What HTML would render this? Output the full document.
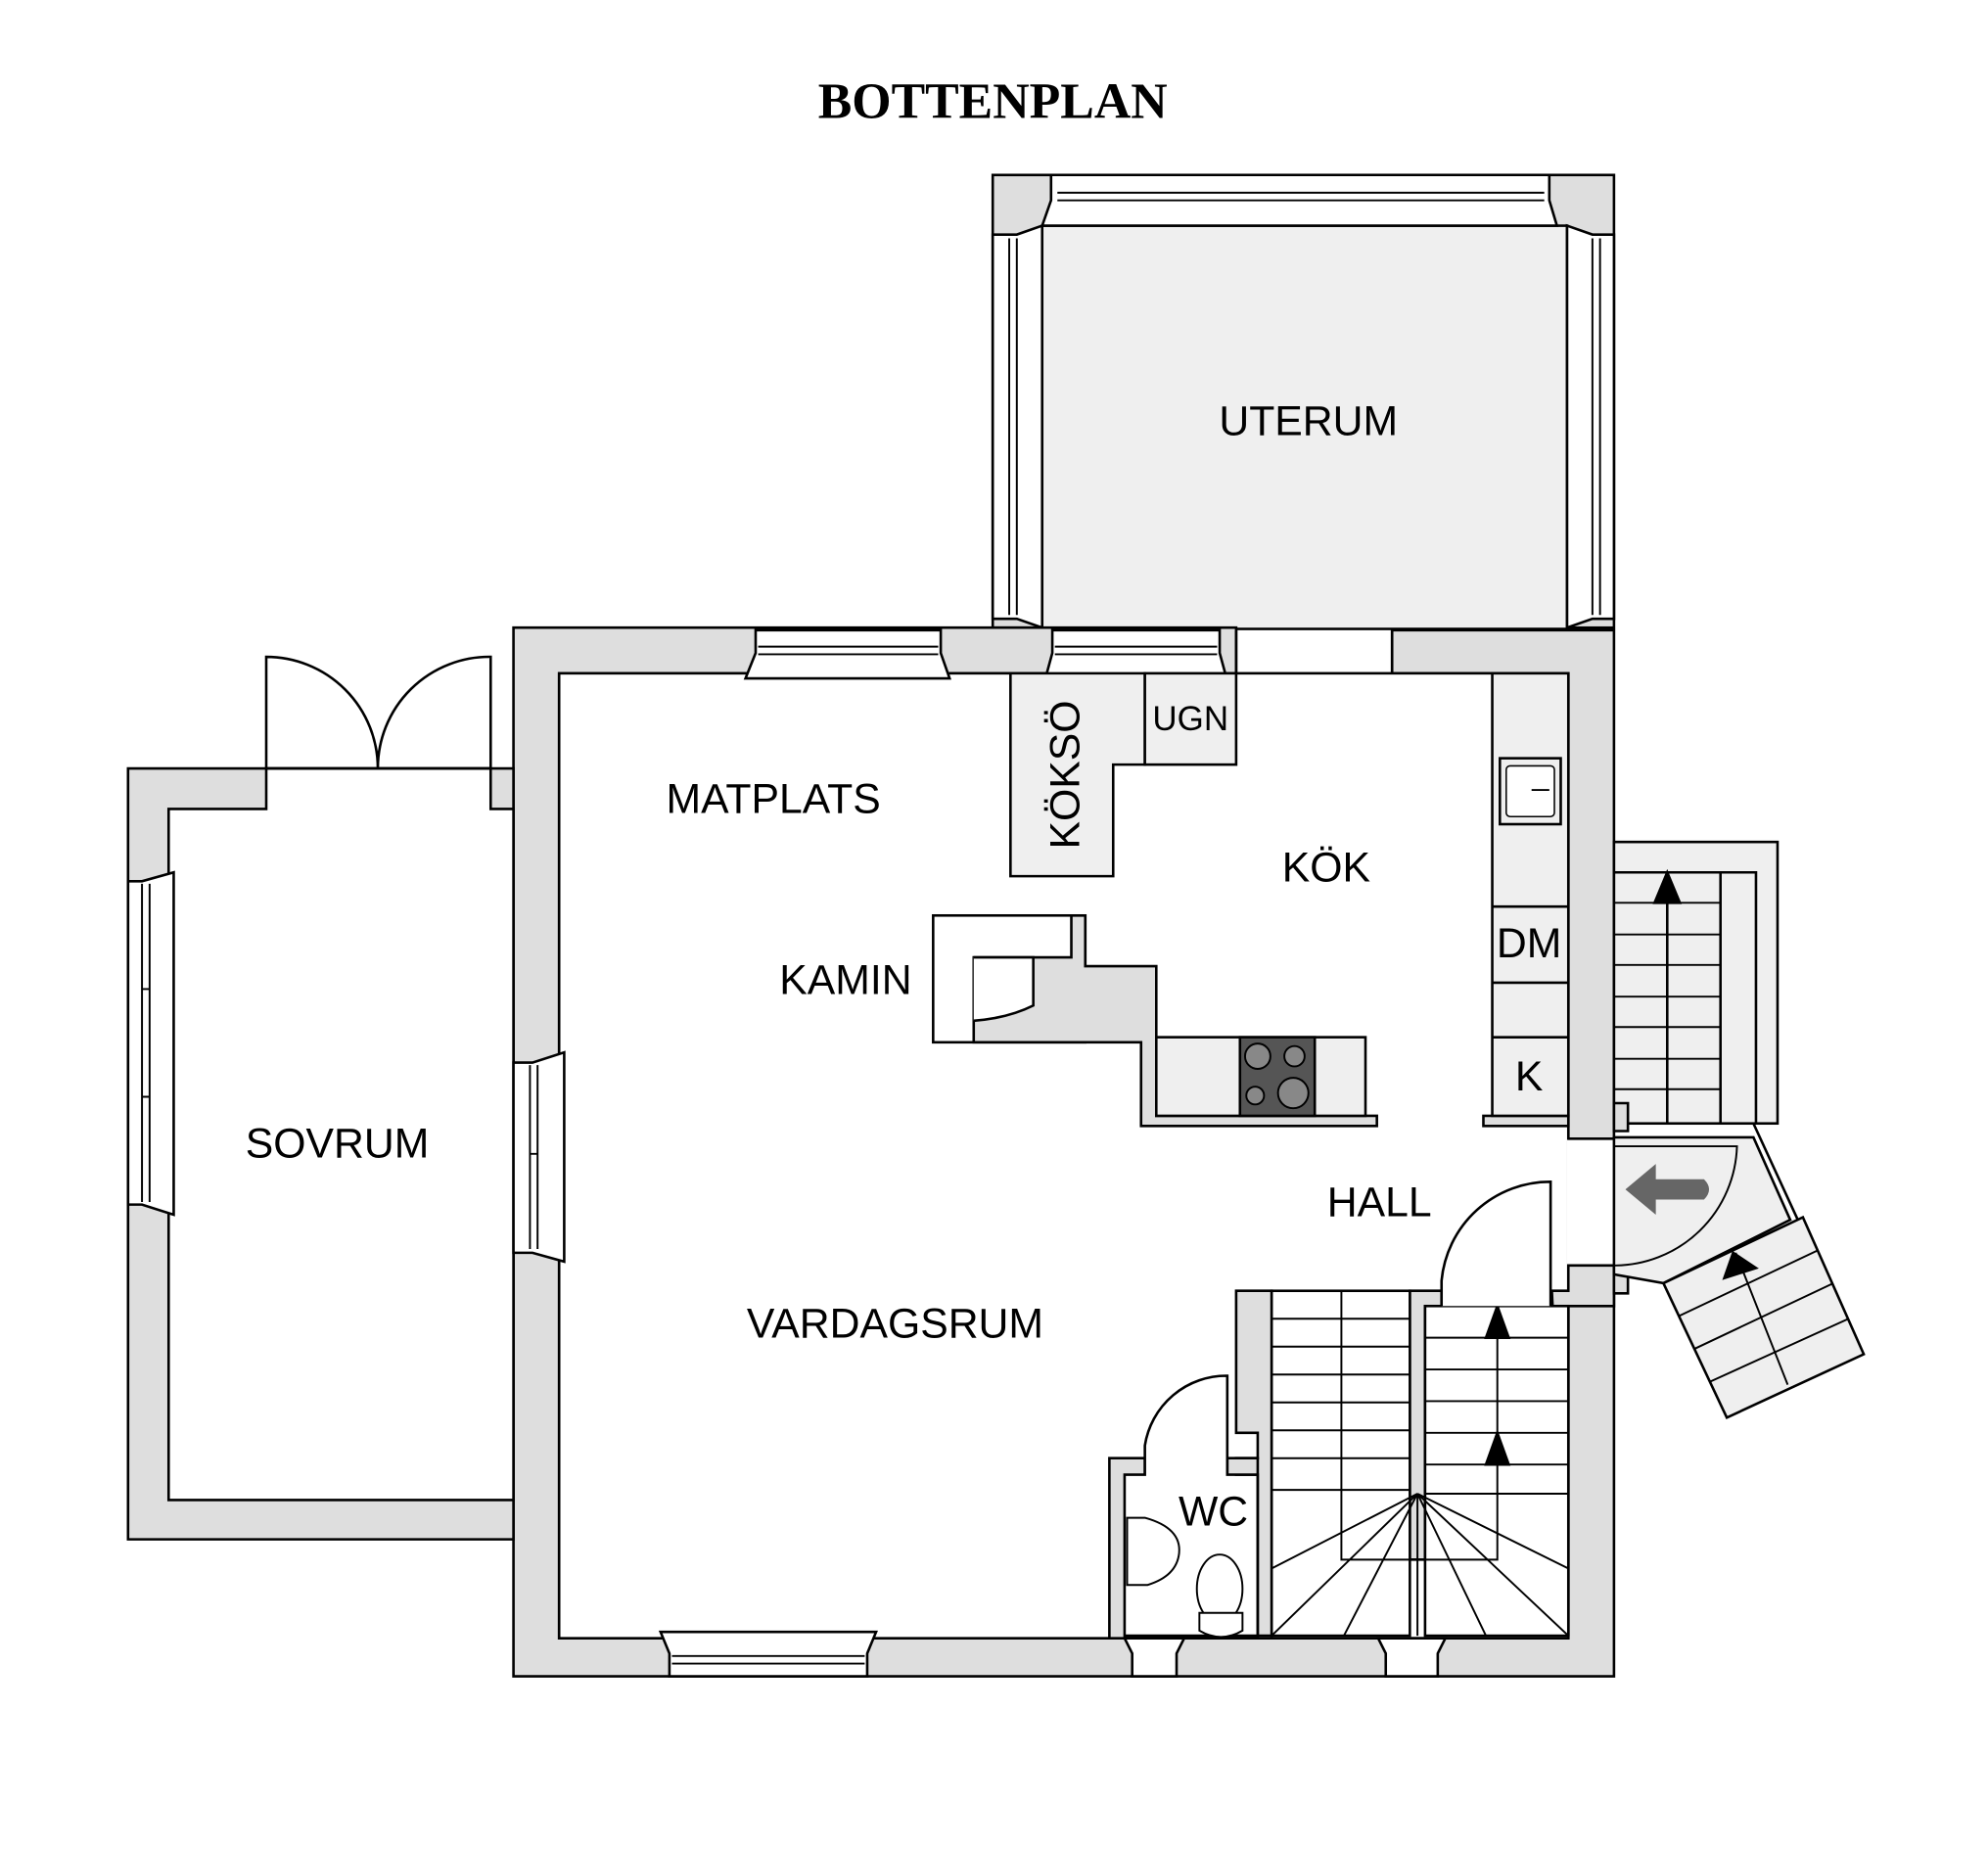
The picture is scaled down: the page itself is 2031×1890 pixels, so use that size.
<!DOCTYPE html>
<html><head><meta charset="utf-8"><style>html,body{margin:0;padding:0;background:#fff}svg{display:block}</style></head>
<body>
<svg width="2031" height="1890" viewBox="0 0 1568 1459" preserveAspectRatio="none" xmlns="http://www.w3.org/2000/svg" font-family="Liberation Sans, sans-serif">
<rect width="1568" height="1459" fill="#fff"/>
<text x="783" y="93" text-anchor="middle" font-family="Liberation Serif, serif" font-weight="bold" font-size="40">BOTTENPLAN</text>
<g stroke="#000" stroke-width="2">
<!-- Uterum -->
<rect x="783" y="138" width="490" height="357" fill="#dedede"/>
<rect x="822" y="178" width="414" height="318" fill="#efefef"/>
<path d="M829,138 H1222 V158 L1228,178 H822 L829,158 Z" fill="#fff"/>
<path d="M834,152 H1218 M834,158 H1218" fill="none" stroke-width="1.5"/>
<path d="M783,185 H802 L822,178 V495 L802,488 H783 Z" fill="#fff"/>
<path d="M796,188 V485 M802,188 V485" fill="none" stroke-width="1.5"/>
<path d="M1273,185 H1256 L1236,178 V495 L1256,488 H1273 Z" fill="#fff"/>
<path d="M1256,188 V485 M1262,188 V485" fill="none" stroke-width="1.5"/>

<!-- main building walls -->
<path d="M405,495 H975 V531 H441 V1292 H1237 V531 H1098 V497 H1273 V1322 H405 Z" fill="#dedede"/>
<rect x="441" y="531" width="796" height="761" fill="#fff"/>
<path d="M975,497 V531 M1098,497 V531" fill="none"/>
<!-- entrance opening in right wall -->
<rect x="1236" y="899" width="39" height="98" fill="#fff" stroke="none"/>
<path d="M1237,898 H1273 M1237,998 H1273" fill="none"/>
<path d="M596,497 H742 V515 L749,535 H588 L596,515 Z" fill="#fff"/>
<path d="M598,510 H740 M598,516 H740" fill="none" stroke-width="1.5"/>
<path d="M830,497 H962 V515 L968,537 H824 L830,515 Z" fill="#fff"/>
<path d="M832,510 H960 M832,516 H960" fill="none" stroke-width="1.5"/>

<!-- Sovrum -->
<path d="M101,606 H405 V1214 H101 Z" fill="#dedede"/>
<path d="M133,638 H210 V606 H387 V638 H405 V1183 H133 Z" fill="#fff"/>
<path d="M210,606 H387" fill="none"/>
<path d="M210,606 V518 A88,88 0 0 1 298,606 M387,606 V518 A88,88 0 0 0 298,606" fill="none"/>
<path d="M101,695 H112 L137,688 V958 L112,950 H101 Z" fill="#fff"/>
<path d="M112,697 V948 M118,697 V948 M112,780 H118 M112,865 H118" fill="none" stroke-width="1.5"/>
<path d="M405,838 H420 L445,830 V995 L420,988 H405 Z" fill="#fff"/>
<path d="M418,840 V985 M424,840 V985 M418,910 H424" fill="none" stroke-width="1.5"/>
<path d="M528,1322 V1304 L521,1287 H691 L684,1304 V1322 Z" fill="#fff"/>
<path d="M530,1306 H682 M530,1312 H682" fill="none" stroke-width="1.5"/>
<path d="M893,1322 V1304 L887,1292 H934 L928,1304 V1322 Z" fill="#fff"/>
<path d="M1093,1322 V1304 L1087,1292 H1140 L1134,1304 V1322 Z" fill="#fff"/>

<!-- Kökso -->
<path d="M797,531 H903 V603 H878 V691 H797 Z" fill="#efefef"/>
<rect x="903" y="531" width="72" height="72" fill="#efefef"/>
<rect x="1170" y="880" width="67" height="8" fill="#dedede"/>
<rect x="1177" y="531" width="60" height="349" fill="#efefef"/>
<path d="M1177,715 H1237 M1177,775 H1237 M1177,818 H1237" fill="none"/>
<rect x="1183" y="598" width="48" height="52" fill="#efefef"/>
<rect x="1188" y="604" width="38" height="40" rx="3" fill="#fff" stroke-width="1.2"/>
<path d="M1208,623 H1222" stroke-width="1.5"/>

<!-- Kamin -->
<rect x="736" y="722" width="120" height="100" fill="#fff"/>
<path d="M845,722 H856 V762 H912 V880 H1086 V888 H900 V822 H768 V755 H845 Z" fill="#dedede"/>
<path d="M768,755 H815 V793 Q795,803 768,805" fill="#fff"/>
<rect x="912" y="818" width="165" height="62" fill="#efefef"/>
<rect x="978" y="818" width="59" height="62" fill="#555"/>
<g fill="#888" stroke-width="1.5">
<circle cx="992" cy="833" r="10"/><circle cx="1021" cy="833" r="8"/>
<circle cx="990" cy="864" r="7"/><circle cx="1020" cy="862" r="12"/>
</g>

<!-- stairs -->
<path d="M975,1018 H1003 V1290 H992 V1163 H975 V1150 H992 V1130 H975 Z" fill="#dedede"/>
<path d="M1112,1018 H1137 V1030 H1124 V1230 H1112 Z" fill="#dedede"/>
<path d="M1224,1018 H1237 V998 H1273 V1030 H1237 V1290 H1237 Z" fill="#dedede"/>
<rect x="1003" y="1018" width="109" height="272" fill="#fff"/>
<rect x="1124" y="1030" width="113" height="260" fill="#fff"/>
<path d="M1003,1040 H1112 M1003,1062 H1112 M1003,1084 H1112 M1003,1106 H1112 M1003,1128 H1112 M1003,1150 H1112 M1003,1175 H1112 M1058,1018 V1230 H1181 V1030
M1124,1055 H1237 M1124,1080 H1237 M1124,1105 H1237 M1124,1130 H1237 M1124,1155 H1237 M1124,1178 H1237
M1118,1178 L1003,1237 M1118,1178 L1003,1290 M1118,1178 L1060,1290 M1118,1178 L1118,1290 M1118,1178 L1172,1290 M1118,1178 L1237,1290 M1118,1178 L1237,1237" fill="none" stroke-width="1.5"/>
<path d="M1181,1030 L1172,1055 H1190 Z M1181,1130 L1172,1155 H1190 Z" fill="#000"/>
<path d="M1137,1030 V1010 A86,86 0 0 1 1223,932 V1030" fill="#fff"/>

<!-- WC -->
<path d="M875,1150 H903 V1163 H887 V1290 H992 V1163 H968 V1150 H992 V1292 H875 Z" fill="#dedede"/>
<path d="M903,1163 V1140 A65,65 0 0 1 968,1085 V1163" fill="#fff"/>
<path d="M889,1197 H903 Q932,1205 930,1225 Q928,1243 905,1250 H889 Z" fill="#fff" stroke-width="1.5"/>
<ellipse cx="962" cy="1253" rx="18" ry="27" fill="#fff" stroke-width="1.5"/>
<path d="M946,1272 H980 V1286 Q963,1296 946,1286 Z" fill="#fff" stroke-width="1.5"/>

<!-- exterior right stairs -->
<rect x="1273" y="664" width="129" height="222" fill="#efefef"/>
<path d="M1273,688 H1385 V886 M1357,688 V886 M1315,688 V886" fill="none"/>
<path d="M1273,712 H1357 M1273,737 H1357 M1273,761 H1357 M1273,786 H1357 M1273,810 H1357 M1273,835 H1357 M1273,859 H1357" fill="none" stroke-width="1.5"/>
<path d="M1315,688 L1305,712 H1325 Z" fill="#000"/>
<path d="M1273,870 H1284 V892 H1273 Z M1273,998 H1284 V1020 H1273 Z" fill="#dedede"/>
<path d="M1273,897 H1383 L1412,962 L1312,1012 L1273,1005 Z" fill="#efefef"/>
<path d="M1383,886 L1418,962" fill="none"/>
<path d="M1273,904 H1370 A97,97 0 0 1 1273,998" fill="none" stroke-width="1.5"/>
<path d="M1282,938 L1306,918 V930 H1344 Q1352,938 1344,946 H1306 V958 Z" fill="#666" stroke="none"/>
<path d="M1312,1012 L1422,960 L1470,1068 L1362,1118 Z" fill="#efefef"/>
<path d="M1324,1038 L1434,986 M1336,1064 L1446,1012 M1348,1090 L1458,1040 M1369,988 L1410,1092" fill="none" stroke-width="1.5"/>
<path d="M1367,988 L1360,1008 L1385,1000 Z" fill="#000"/>
</g>

<g font-size="33" fill="#000">
<text x="1032" y="343" text-anchor="middle">UTERUM</text>
<text x="610" y="641" text-anchor="middle">MATPLATS</text>
<text x="939" y="576" text-anchor="middle" font-size="27">UGN</text>
<text x="1046" y="695" text-anchor="middle">KÖK</text>
<text x="667" y="784" text-anchor="middle">KAMIN</text>
<text x="1206" y="755" text-anchor="middle">DM</text>
<text x="1206" y="860" text-anchor="middle">K</text>
<text x="266" y="913" text-anchor="middle">SOVRUM</text>
<text x="1088" y="959" text-anchor="middle">HALL</text>
<text x="706" y="1055" text-anchor="middle">VARDAGSRUM</text>
<text x="957" y="1203" text-anchor="middle">WC</text>
<text transform="translate(851,611) rotate(-90)" text-anchor="middle">KÖKSÖ</text>
</g>
</svg>
</body></html>
